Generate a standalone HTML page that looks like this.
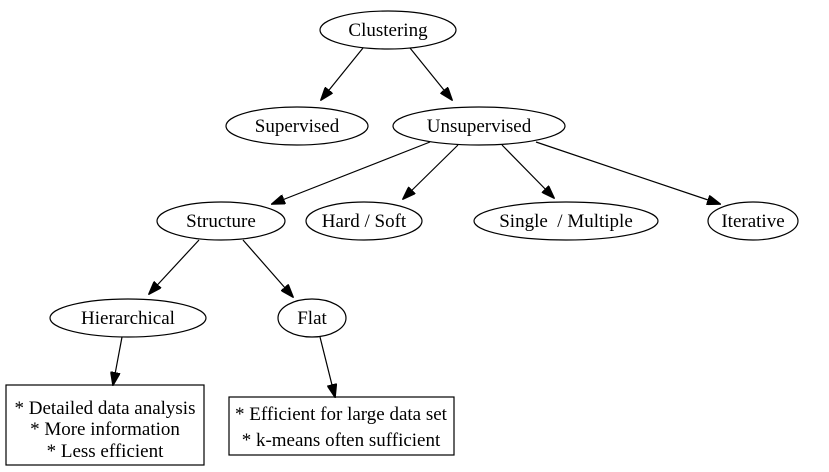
<!DOCTYPE html>
<html><head><meta charset="utf-8"><style>
html,body{margin:0;padding:0;background:#fff;}
svg{display:block;}
text{font-family:"Liberation Serif",serif;font-size:19px;fill:#000;}
</style></head><body>
<svg width="829" height="472" viewBox="0 0 829 472">
<defs><marker id="a" markerWidth="14" markerHeight="10" refX="13" refY="5" orient="auto" markerUnits="userSpaceOnUse"><path d="M0,0 L14,5 L0,10 Z" fill="#000" stroke="#000"/></marker></defs>
<g fill="none" stroke="#000" stroke-width="1.2">
<ellipse cx="388" cy="30" rx="68" ry="19"/>
<ellipse cx="297" cy="126" rx="71" ry="19"/>
<ellipse cx="479" cy="126" rx="86" ry="19"/>
<ellipse cx="221" cy="221" rx="64" ry="19"/>
<ellipse cx="364" cy="221" rx="58" ry="19"/>
<ellipse cx="566" cy="221" rx="92" ry="19"/>
<ellipse cx="753" cy="221" rx="45" ry="19"/>
<ellipse cx="128" cy="318" rx="78" ry="19"/>
<ellipse cx="312" cy="318" rx="34" ry="19"/>
<rect x="6" y="385" width="198" height="80"/>
<rect x="229" y="397" width="225" height="58"/>
<g marker-end="url(#a)">
<line x1="363" y1="48" x2="321" y2="100"/>
<line x1="410" y1="48" x2="452" y2="100"/>
<line x1="430" y1="142" x2="272" y2="204"/>
<line x1="458" y1="145" x2="403" y2="199"/>
<line x1="502" y1="145" x2="554" y2="198"/>
<line x1="536" y1="142" x2="720" y2="204"/>
<line x1="199" y1="240" x2="149" y2="294"/>
<line x1="243" y1="240" x2="293" y2="297"/>
<line x1="122" y1="337" x2="113" y2="385"/>
<line x1="320" y1="337" x2="335" y2="397"/>
</g></g>
<g text-anchor="middle">
<text x="388" y="36">Clustering</text>
<text x="297" y="132">Supervised</text>
<text x="479" y="132">Unsupervised</text>
<text x="221" y="227">Structure</text>
<text x="364" y="227">Hard / Soft</text>
<text x="566" y="227" xml:space="preserve">Single  / Multiple</text>
<text x="753" y="227">Iterative</text>
<text x="128" y="324">Hierarchical</text>
<text x="312" y="324">Flat</text>
<text x="105" y="414">* Detailed data analysis</text>
<text x="105" y="435">* More information</text>
<text x="105" y="457">* Less efficient</text>
<text x="341" y="420">* Efficient for large data set</text>
<text x="341" y="446">* k-means often sufficient</text>
</g>
</svg>
</body></html>
